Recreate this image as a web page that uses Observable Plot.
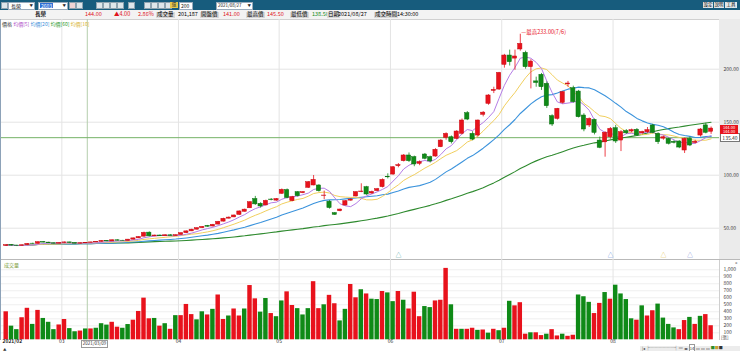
<!DOCTYPE html>
<html><head><meta charset="utf-8">
<script src="https://cdn.jsdelivr.net/npm/d3@7"></script>
<script src="https://cdn.jsdelivr.net/npm/@observablehq/plot@0.6"></script>
<style>
body{margin:0;background:#fff;font-family:"Noto Sans CJK TC","Noto Sans",sans-serif;}
#wrap{position:relative;width:740px;height:351px;overflow:hidden;background:#fff;}
.a{position:absolute;white-space:nowrap;line-height:1;}
.tb{background:#175c7d;left:0;top:0;width:740px;height:10px;}
.wbox{background:#fff;border:1px solid #9ab;height:6px;top:1.5px;font-size:5px;color:#222;overflow:hidden;}
.btn{background:#dfe6ea;border:1px solid #8fa3b0;width:5px;height:5px;top:2px;}
.row2{left:0;top:10px;width:740px;height:9px;background:#f3f3f3;border-bottom:1px solid #d0d0d0;}
.t6{font-size:5.5px;top:12px;}
.lab{background:#d9d9d9;padding:0 1px;}
.red{color:#e0141c;}
.grn{color:#108a18;}
</style></head><body><div id="wrap"></div>
<script>
// ---- data ----
const opens = [33.2,34.0,33.6,33.3,34.0,35.4,35.2,36.9,36.4,35.8,
35.4,36.0,36.6,36.0,35.4,35.8,36.2,36.6,37.1,38.0,
37.5,38.6,38.2,38.0,39.2,40.4,42.0,45.8,42.3,43.1,
42.4,43.3,42.6,43.6,45.3,47.0,48.6,50.0,52.2,51.6,
53.4,56.2,59.0,60.2,62.5,65.5,68.8,77.5,73.0,71.5,
77.0,76.0,82.4,86.0,75.5,84.0,83.0,88.1,90.3,90.3,
80.5,75.0,64.2,66.0,71.4,76.0,79.9,84.0,88.7,82.7,
85.0,88.7,98.5,100.6,108.5,113.2,118.6,117.0,110.7,119.5,
117.0,117.6,126.4,135.2,135.8,134.3,139.0,158.5,139.0,137.4,
157.0,167.3,179.5,180.8,204.1,212.9,210.0,218.6,215.4,201.9,
188.5,194.7,186.2,155.7,153.1,168.2,185.7,182.1,178.9,156.3,
146.9,152.2,132.7,131.0,135.8,144.3,132.7,141.5,141.2,142.8,
139.5,140.5,146.9,139.0,134.5,134.3,131.5,131.8,123.3,134.3,
130.5,137.4,147.0,141.0];
const highs = [34.3,34.5,33.9,34.2,35.5,35.8,37.2,37.3,36.7,36.0,
36.2,36.9,36.8,36.2,36.0,36.4,36.8,37.3,38.2,38.3,
38.9,38.9,38.5,39.4,40.6,42.0,46.3,46.5,43.4,43.5,
43.7,43.8,43.7,45.6,47.4,49.0,50.4,51.6,52.6,53.6,
56.4,59.4,60.6,62.4,66.2,68.0,75.0,80.0,74.0,76.5,
78.0,78.0,87.0,87.0,80.0,84.5,84.6,94.0,99.7,91.0,
85.0,76.0,64.8,68.0,76.0,77.5,84.5,91.9,89.5,85.0,
87.5,96.5,101.3,108.0,111.0,119.5,121.0,118.0,113.5,120.5,
118.0,125.0,133.5,140.0,137.0,142.0,153.0,160.0,141.0,152.0,
160.0,176.0,183.0,197.0,214.0,218.0,218.0,233.0,217.0,209.0,
192.5,196.0,188.0,157.0,163.0,179.0,188.5,184.0,180.0,158.0,
154.0,153.0,136.0,141.0,145.0,147.0,142.0,143.0,143.5,144.0,
141.5,145.0,148.0,140.0,137.0,135.0,132.5,132.5,135.0,136.0,
133.0,144.0,149.0,145.5];
const lows = [32.8,33.3,33.0,33.1,33.8,34.9,35.0,36.2,35.6,35.2,
35.2,35.8,35.8,35.2,35.2,35.6,36.0,36.4,36.9,37.3,
37.4,38.0,37.8,37.9,39.0,40.2,41.8,41.8,42.0,42.2,
42.3,42.6,42.4,43.4,45.1,46.8,48.3,49.7,50.9,51.3,
53.1,55.9,58.7,59.9,62.2,65.2,68.5,71.5,69.0,71.0,
75.8,75.5,82.0,77.7,75.0,79.5,82.5,87.5,90.0,84.0,
77.0,68.0,62.0,65.5,71.0,75.5,79.5,83.5,81.0,82.0,
84.5,88.0,96.5,100.0,107.0,112.5,112.0,108.0,109.0,114.5,
111.5,117.0,126.0,133.0,129.5,133.5,138.0,151.5,132.5,136.0,
155.0,166.0,177.0,180.0,201.0,203.0,199.0,217.0,200.0,181.4,
183.0,180.0,163.0,146.0,152.0,167.0,183.0,168.0,154.0,141.0,
145.0,138.0,125.0,117.0,134.0,130.0,122.3,138.5,140.0,136.5,
138.5,139.5,139.0,129.0,133.0,128.5,129.5,125.0,120.5,127.0,
129.5,136.0,139.0,138.5];
const closes = [34.0,33.6,33.3,33.9,35.2,35.1,36.8,36.4,35.8,35.4,
36.0,36.6,36.0,35.4,35.8,36.2,36.6,37.1,38.0,37.5,
38.6,38.2,38.0,39.2,40.4,41.7,45.6,42.3,43.1,42.4,
43.3,42.6,43.4,45.3,47.0,48.6,50.0,51.2,51.4,53.2,
56.0,58.9,60.0,62.0,65.8,67.5,74.5,72.5,70.5,75.8,
76.5,77.5,86.2,78.5,79.3,80.2,84.0,93.4,95.6,84.9,
80.8,69.0,62.6,67.6,75.5,77.0,84.0,84.6,81.8,84.2,
86.8,95.6,98.0,107.5,109.5,118.6,113.2,110.1,112.3,115.5,
113.0,124.0,132.7,139.0,131.1,141.2,151.6,152.5,133.6,151.6,
159.0,175.2,180.5,196.5,212.9,206.6,212.0,223.9,201.9,207.2,
187.0,183.0,165.1,147.8,162.6,178.3,186.5,168.9,154.7,143.1,
153.1,139.9,125.8,140.0,143.7,131.8,140.6,139.5,142.5,137.4,
140.8,142.5,139.9,131.1,135.8,129.6,130.5,126.1,134.3,128.0,
131.5,143.1,140.0,144.0];
// volume in 千張
const volumes = [400,195,145,315,450,220,420,305,250,145,
212,290,160,115,125,155,155,165,230,210,
250,180,165,218,280,405,595,300,305,195,
230,150,345,345,505,360,285,400,355,435,
640,290,340,440,340,440,775,585,395,590,
375,330,555,685,490,445,355,445,830,445,
500,635,515,270,435,790,600,715,655,580,
575,690,670,545,690,565,440,680,330,475,
460,555,565,1020,500,150,150,150,165,135,
140,95,150,130,165,550,485,530,80,100,
100,60,80,145,55,80,50,65,640,615,
535,375,520,675,580,780,655,575,300,280,
485,340,415,510,310,220,170,145,275,320,
220,335,360,201];
// volume bar direction (u = red, d = green)
const volDir = ("udduududdd" + "uuddududd" + "d" + "uudduuuudu" + "duduuuddud" +
  "uuduuduudd" + "udduudddu" + "u" + "duudduudud" + "dudduduuud" +
  "duuududuud" + "udududuuud" + "uuduuduudd" + "duududdddu" + "duudddduu" + "dud" + "uud").split("");
const priceTicks = [50, 100, 150, 200];
const volTicks = [100,200,300,400,500,600,700,800,900,1000];
const monthLabels = ["2021/02","03","04","05","06","07","08"];
const monthStart = [0, 11, 33, 52, 73, 94, 115];
const markerIdx = [74, 114, 124, 129];
const markerColor = ["#3a9a9a", "#4a7fd8", "#e0b830", "#6a80d0"];
const crossIdx = 15.3, crossPrice = 135.40, crossDate = "2021/03/09";
const peakIdx = 97, peakLabel = "最高233.00(7/6)";
const lastPrice = 144.00;

// ---- build ----
const RED = "#e8121c", GRN = "#0f8a17";
const rows = closes.map((c, i) => ({i, o: opens[i], h: highs[i], l: lows[i], c, v: volumes[i], vd: volDir[i]}));
const up = rows.filter(d => d.c >= d.o), dn = rows.filter(d => d.c < d.o);
const vup = rows.filter(d => d.vd === "u"), vdn = rows.filter(d => d.vd !== "u");
const xDom = [-1.0755, 134.585];
const W = 0.4;
const FONT = '"Noto Sans CJK TC","Noto Sans",sans-serif';
const wrap = document.getElementById("wrap");

function add(html){ wrap.insertAdjacentHTML("beforeend", html); }

// header toolbar
add(`<div class="a tb"></div>
<div class="a btn" style="left:1px;top:2px;width:5px;"></div>
<div class="a wbox" style="left:8px;width:25px;"><span style="position:absolute;left:2px;top:0.5px">長榮</span><span style="position:absolute;right:1px;top:1px;font-size:3.5px">▼</span></div>
<div class="a wbox" style="left:38px;width:28px;"><span style="position:absolute;left:1px;top:0.5px;background:#2f6fd6;color:#fff;padding:0 1px">2603</span><span style="position:absolute;right:1px;top:1px;font-size:3.5px">▼</span></div>
<div class="a btn" style="left:69px;background:#f1d4d4"></div><div class="a btn" style="left:76px"></div>
<div class="a btn" style="left:96px"></div><div class="a btn" style="left:103px"></div><div class="a btn" style="left:110px"></div><div class="a btn" style="left:117px"></div>
<div class="a btn" style="left:128px"></div>
<div class="a btn" style="left:144px"></div><div class="a btn" style="left:151px"></div><div class="a btn" style="left:158px"></div><div class="a btn" style="left:165px"></div>
<div class="a" style="left:170px;top:2px;width:8px;height:6px;background:#e6c84a;font-size:4.5px;color:#333;text-align:center">還</div>
<div class="a wbox" style="left:179px;width:12px;"><span style="position:absolute;left:1px;top:0.5px">200</span></div>
<div class="a wbox" style="left:216px;width:35px;"><span style="position:absolute;left:1px;top:0.5px;font-size:4.5px">2021/08/27</span><span style="position:absolute;right:1px;top:1px;font-size:3.5px">▼</span></div>
<div class="a" style="left:703px;top:2px;width:10px;height:6px;background:#dfe6ea;font-size:4.5px;text-align:center">設定</div>
<div class="a" style="left:714px;top:2px;width:10px;height:6px;background:#dfe6ea;font-size:4.5px;text-align:center">說明</div>
<div class="a" style="left:725px;top:2px;width:12px;height:6px;background:#dfe6ea;font-size:4.5px;text-align:center">工具</div>
<div class="a row2"></div>
<div class="a t6" style="left:35px;font-weight:bold;color:#222">長榮</div>
<div class="a t6 red" style="left:85px">${lastPrice.toFixed(2)}</div>
<div class="a t6 red" style="left:114px">▲4.00</div>
<div class="a t6 red" style="left:138px">2.86%</div>
<div class="a t6 lab" style="left:156px">成交量</div>
<div class="a t6" style="left:178px">201,187</div>
<div class="a t6 lab" style="left:200px">開盤價</div>
<div class="a t6 red" style="left:223px">141.00</div>
<div class="a t6 lab" style="left:246px">最高價</div>
<div class="a t6 red" style="left:267px">145.50</div>
<div class="a t6 lab" style="left:290px">最低價</div>
<div class="a t6 grn" style="left:312px">138.50</div>
<div class="a t6 lab" style="left:327px">日期</div>
<div class="a t6" style="left:338px">2021/08/27</div>
<div class="a t6 lab" style="left:374px">成交時間</div>
<div class="a t6" style="left:397px">14:30:00</div>
`);

// right gray strip for price axis
add(`<div class="a" style="left:719px;top:19px;width:21px;height:240px;background:#ebebeb"></div>`);

const price = Plot.plot({
  width: 740, height: 240,
  marginLeft: 0, marginRight: 21, marginTop: 0, marginBottom: 0,
  style: {background: "transparent", fontFamily: FONT, fontSize: "6px", overflow: "visible"},
  x: {domain: xDom, axis: null},
  y: {domain: [20.47, 246.89], axis: null},
  color: {type: "identity"},
  marks: [
    Plot.ruleY(priceTicks, {stroke: "#e4e4e4"}),
    Plot.ruleX(monthStart.slice(1), {x: d => d - 0.5, stroke: "#e4e4e4"}),
    Plot.ruleX([crossIdx], {stroke: "#b4ceac"}),
    Plot.ruleY([crossPrice], {stroke: "#74b266"}),
    Plot.lineY(rows, Plot.windowY({k: 60, anchor: "end"}, {x: "i", y: "c", stroke: "#2e8a2e", strokeWidth: 1.1})),
    Plot.lineY(rows, Plot.windowY({k: 20, anchor: "end"}, {x: "i", y: "c", stroke: "#3b93dc", strokeWidth: 1.1})),
    Plot.lineY(rows, Plot.windowY({k: 10, anchor: "end"}, {x: "i", y: "c", stroke: "#f1cf5e", strokeWidth: 1})),
    Plot.lineY(rows, Plot.windowY({k: 5, anchor: "end"}, {x: "i", y: "c", stroke: "#b57ee6", strokeWidth: 1})),
    Plot.ruleX(up, {x: "i", y1: "l", y2: "h", stroke: RED, strokeWidth: 0.8}),
    Plot.ruleX(dn, {x: "i", y1: "l", y2: "h", stroke: GRN, strokeWidth: 0.8}),
    Plot.rect(up, {x1: d => d.i - W, x2: d => d.i + W, y1: "o", y2: "c", fill: RED, stroke: "#c80a12", strokeWidth: 0.5}),
    Plot.rect(dn, {x1: d => d.i - W, x2: d => d.i + W, y1: "c", y2: "o", fill: GRN, stroke: "#0a6e10", strokeWidth: 0.5}),
    Plot.text(markerIdx.map((i, k) => ({i, c: markerColor[k]})), {x: "i", text: () => "△", frameAnchor: "bottom", dy: -3, fill: "c", fontSize: 6}),
    Plot.text([rows[peakIdx]], {x: "i", y: "h", text: () => "—" + peakLabel, textAnchor: "start", dx: 1, dy: -2, fill: RED, fontSize: 5.5}),
    Plot.axisY({anchor: "right", ticks: priceTicks, tickFormat: d => d.toFixed(2), tickSize: 0, tickPadding: 4, fontSize: 5, fill: "#444", label: null})
  ]
});
price.style.position = "absolute"; price.style.left = "0px"; price.style.top = "19px";
wrap.appendChild(price);

// pane separator
add(`<div class="a" style="left:0;top:259px;width:740px;height:1px;background:#b9b9b9"></div>`);
add(`<div class="a" style="left:719px;top:260px;width:1px;height:80px;background:#cfcfcf"></div>`);

const vol = Plot.plot({
  width: 740, height: 92,
  marginLeft: 0, marginRight: 21, marginTop: 0, marginBottom: 11.7,
  style: {background: "transparent", fontFamily: FONT, fontSize: "6px", overflow: "visible"},
  x: {domain: xDom, axis: null},
  y: {domain: [0, 1147], axis: null},
  marks: [
    Plot.ruleY(volTicks, {stroke: "#efefef"}),
    Plot.ruleX(monthStart.slice(1), {x: d => d - 0.5, stroke: "#e4e4e4"}),
    Plot.ruleX([crossIdx], {stroke: "#b4ceac"}),
    Plot.rectY(vup, {x1: d => d.i - 0.42, x2: d => d.i + 0.42, y: "v", fill: RED}),
    Plot.rectY(vdn, {x1: d => d.i - 0.42, x2: d => d.i + 0.42, y: "v", fill: GRN}),
    Plot.axisY({anchor: "right", ticks: volTicks, tickFormat: d3.format(","), tickSize: 0, tickPadding: 4, fontSize: 5, fill: "#444", label: null}),
    Plot.text(monthStart.slice(1).map((s, k) => ({s, t: monthLabels[k + 1]})), {x: d => d.s - 0.5, text: "t", frameAnchor: "bottom", dy: 3.5, fontSize: 5, fill: "#333"}),
    Plot.text([monthLabels[0]], {x: monthStart[0] - 0.7, text: d => d, frameAnchor: "bottom", dy: 3.5, textAnchor: "start", fontSize: 5, fontWeight: "bold", fill: "#222"})
  ]
});
vol.style.position = "absolute"; vol.style.left = "0px"; vol.style.top = "259px";
wrap.appendChild(vol);

// labels positioned with the library's scales
const xs = price.scale("x"), ys = price.scale("y");
const cx = xs.apply(crossIdx);
const cy = 19 + ys.apply(crossPrice);
const ly = 19 + ys.apply(lastPrice);
add(`<div class="a" style="left:2px;top:21px;font-size:5px"><span style="color:#333">價格</span> <span style="color:#b050c8">均價[5]</span> <span style="color:#3b8ed8">均價[20]</span> <span style="color:#2e9a2e">均價[60]</span> <span style="color:#d8b430">均價[10]</span></div>`);
add(`<div class="a" style="left:4px;top:262px;font-size:5px;color:#7a9a3a">成交量</div>`);
add(`<div class="a" style="left:721px;top:335px;font-size:4.5px;color:#444">[張]</div>`);
add(`<div class="a" style="left:735px;top:259px;font-size:5px;color:#444">»</div>`);
add(`<div class="a" style="left:720px;top:${cy - 4}px;width:18px;height:7px;background:#fff;border:1px solid #777;font-size:5px;color:#333;text-align:center;line-height:7px">${crossPrice.toFixed(2)}</div>`);
add(`<div class="a" style="left:720px;top:${ly - 3.5}px;width:18px;height:9px;background:#e8121c;font-size:4px;color:#fff;text-align:center;line-height:4.5px">${lastPrice.toFixed(2)}<br>${lastPrice.toFixed(2)}</div>`);
add(`<div class="a" style="left:${cx - 6}px;top:340px;padding:0 1px;height:5.5px;background:#fff;border:1px solid #999;font-size:4.5px;color:#333;line-height:5.5px">${crossDate}</div>`);
add(`<div class="a" style="left:0;top:19px;width:1px;height:321px;background:#8da2b8"></div>`);
add(`<div class="a" style="left:3px;top:347.5px;font-size:3.5px;color:#333">▲</div>`);
add(`<div class="a" style="left:640px;top:345.5px;width:100px;height:5.5px;background:#ececec"></div>
<div class="a" style="left:642px;top:346px;font-size:4px;color:#333">|◂ ├──────┤ ═ ◂▸ <span style="background:#fff;border:1px solid #999">14</span> ▭ ▭ ▭ <span style="color:#2a8a2a">■</span><span style="color:#c9a030">■</span>■</div>`);
</script>
</body></html>
